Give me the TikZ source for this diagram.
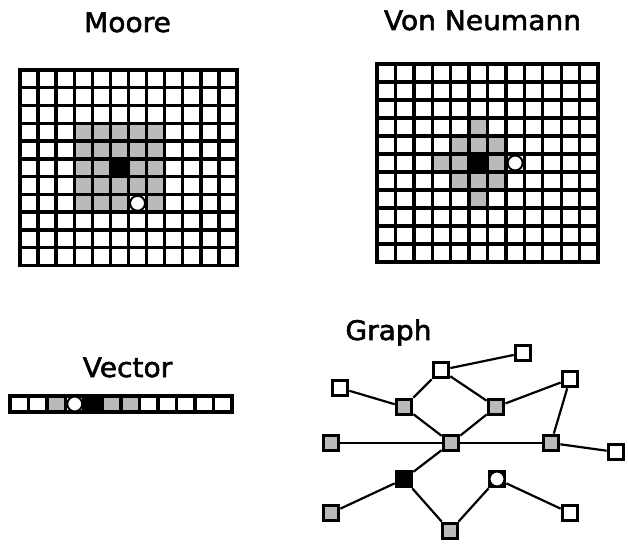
\documentclass[tikz,border=0pt]{standalone}
\usepackage{fontspec}
\newfontfamily\titlefont[FakeStretch=1.04,FakeBold=2]{DejaVu Sans}
\begin{document}
\begin{tikzpicture}[x=1pt,y=-1pt,
  gl/.style={line width=3.4pt, line cap=rect},
  nb/.style={fill=black!27},
  circ/.style={draw=black, fill=white, line width=2pt},
  title/.style={font=\fontsize{27}{31}\selectfont\titlefont, anchor=base, inner sep=0pt},
  gnode/.style={draw=black, line width=3.2pt, minimum size=15.5pt, inner sep=0pt, fill=white},
  gshade/.style={gnode, fill=black!27},
  gblack/.style={gnode, fill=black},
  gedge/.style={line width=2.2pt}]
\useasboundingbox (0,0) rectangle (628,543);

% ---------- titles
\node[title] (tmoore) at (127.5,32) {Moore};
\node[title] (tvn) at (482.5,30) {Von Neumann};
\node[title] (tvec) at (127.5,377) {Vector};
\node[title] (tgraph) at (388.5,340) {Graph};

% ---------- Moore grid
\def\mx{20}\def\my{70}\def\mw{18.083}\def\mh{17.77}
\foreach \c in {3,...,7}{\foreach \r in {3,...,7}{
  \fill[nb] ({\mx+\c*\mw},{\my+\r*\mh}) rectangle ++(\mw,\mh);}}
\fill[black] ({\mx+5*\mw},{\my+5*\mh}) rectangle ++(\mw,\mh);
\fill[white] ({\mx+6*\mw},{\my+7*\mh}) rectangle ++(\mw,\mh);
\foreach \i in {0,...,12}{\draw[gl] ({\mx+\i*\mw},\my) -- ({\mx+\i*\mw},{\my+11*\mh});}
\foreach \j in {0,...,11}{\draw[gl] (\mx,{\my+\j*\mh}) -- ({\mx+12*\mw},{\my+\j*\mh});}
\draw[circ] ({\mx+6.5*\mw},{\my+7.5*\mh}) circle (7.5pt);

% ---------- Von Neumann grid
\def\vx{377}\def\vy{64}\def\vw{18.42}\def\vh{18}
\foreach \c/\r in {5/3,4/4,5/4,6/4,3/5,4/5,6/5,4/6,5/6,6/6,5/7}{
  \fill[nb] ({\vx+\c*\vw},{\vy+\r*\vh}) rectangle ++(\vw,\vh);}
\fill[black] ({\vx+5*\vw},{\vy+5*\vh}) rectangle ++(\vw,\vh);
\foreach \i in {0,...,12}{\draw[gl] ({\vx+\i*\vw},\vy) -- ({\vx+\i*\vw},{\vy+11*\vh});}
\foreach \j in {0,...,11}{\draw[gl] (\vx,{\vy+\j*\vh}) -- ({\vx+12*\vw},{\vy+\j*\vh});}
\draw[circ] ({\vx+7.5*\vw},{\vy+5.5*\vh}) circle (7.5pt);

% ---------- Vector
\def\ex{10}\def\ey{396}\def\ew{18.5}\def\eh{16}
\foreach \c in {2,5,6}{\fill[nb] ({\ex+\c*\ew},\ey) rectangle ++(\ew,\eh);}
\fill[black] ({\ex+4*\ew},\ey) rectangle ++(\ew,\eh);
\foreach \i in {0,...,12}{\draw[gl] ({\ex+\i*\ew},\ey) -- ({\ex+\i*\ew},{\ey+\eh});}
\foreach \j in {0,1}{\draw[gl] (\ex,{\ey+\j*\eh}) -- ({\ex+12*\ew},{\ey+\j*\eh});}
\draw[circ] ({\ex+3.5*\ew},{\ey+0.5*\eh}) circle (7.5pt);

% ---------- Graph
\node[gnode]  (tr)  at (523,353) {};
\node[gnode]  (tw)  at (441,370) {};
\node[gnode]  (lw)  at (340,388) {};
\node[gnode]  (rw)  at (570,379) {};
\node[gshade] (sul) at (404,407) {};
\node[gshade] (sur) at (496,407) {};
\node[gshade] (sl)  at (331,443) {};
\node[gshade] (c)   at (451,443) {};
\node[gshade] (sr)  at (551,443) {};
\node[gnode]  (fr)  at (616,452) {};
\node[gblack] (bk)  at (404,479) {};
\node[gnode]  (ci)  at (497,479) {};
\node[gshade] (bl)  at (331,513) {};
\node[gshade] (bs)  at (450,531) {};
\node[gnode]  (br)  at (570,513) {};
\draw[circ] (ci.center) circle (7.5pt);

\draw[gedge] (tw) -- (tr);
\draw[gedge] (tw) -- (sul);
\draw[gedge] (tw) -- (sur);
\draw[gedge] (lw) -- (sul);
\draw[gedge] (sul) -- (c);
\draw[gedge] (sur) -- (c);
\draw[gedge] (sur) -- (rw);
\draw[gedge] (rw) -- (sr);
\draw[gedge] (sl) -- (c);
\draw[gedge] (c) -- (sr);
\draw[gedge] (sr) -- (fr);
\draw[gedge] (c) -- (bk);
\draw[gedge] (bk) -- (bl);
\draw[gedge] (bk) -- (bs);
\draw[gedge] (bs) -- (ci);
\draw[gedge] (ci) -- (br);
\end{tikzpicture}
\end{document}
